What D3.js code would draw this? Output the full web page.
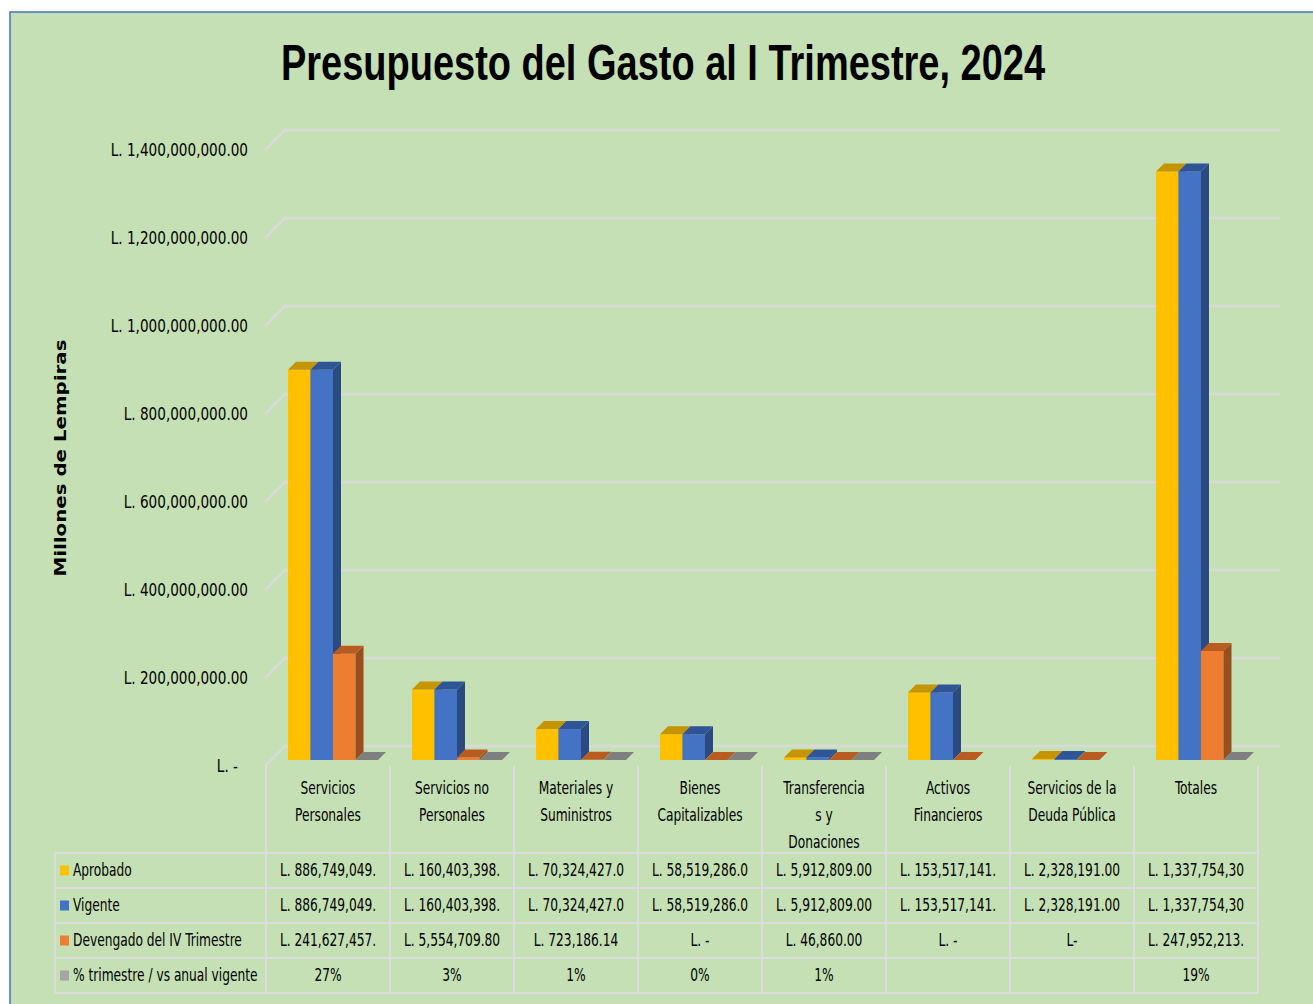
<!DOCTYPE html>
<html>
<head>
<meta charset="utf-8">
<script src="https://cdnjs.cloudflare.com/ajax/libs/d3/7.8.5/d3.min.js"></script>
<style>
  body { margin: 0; background: #fff; }
  svg { display: block; }
</style>
</head>
<body>
<svg id="chart" width="1313" height="1004"></svg>
<script>
// data
var categories = ["Servicios Personales", "Servicios no Personales", "Materiales y Suministros",
  "Bienes Capitalizables", "Transferencia s y Donaciones", "Activos Financieros",
  "Servicios de la Deuda Pública", "Totales"];
var headerLines = [["Servicios", "Personales"], ["Servicios no", "Personales"], ["Materiales y", "Suministros"],
  ["Bienes", "Capitalizables"], ["Transferencia", "s y", "Donaciones"], ["Activos", "Financieros"],
  ["Servicios de la", "Deuda Pública"], ["Totales"]];
var seriesNames = ["Aprobado", "Vigente", "Devengado del IV Trimestre", "% trimestre / vs anual vigente"];
var aprobado = [886749049, 160403398, 70324427, 58519286, 5912809, 153517141, 2328191, 1337754300];
var vigente = [886749049, 160403398, 70324427, 58519286, 5912809, 153517141, 2328191, 1337754300];
var devengado = [241627457, 5554709.80, 723186.14, 0, 46860, 0, 0, 247952213];
var devengadoText = [null, null, null, null, null, null, "L-", null];
var porcentaje = [0.27, 0.03, 0.01, 0, 0.01, null, null, 0.19];
var yTicks = [0, 200000000, 400000000, 600000000, 800000000, 1000000000, 1200000000, 1400000000];

var colors = [
  {front: "#ffc000", top: "#c49500", side: "#b88c00"},
  {front: "#4472c4", top: "#2f5597", side: "#2b4a82"},
  {front: "#ed7d31", top: "#b85c22", side: "#9a4d1d"},
  {front: "#a5a5a5", top: "#7f7f7f", side: "#6f6f6f"}
];

var svg = d3.select("#chart");
var W = 1313, H = 1004;
var plotLeft = 266, plotRight = 1258;
var baseY = 760, depth = 8, wallDx = 20, wallDy = 20;
var narrow = "'Liberation Sans Narrow', 'DejaVu Sans Condensed', 'Arial Narrow', sans-serif";
var squeeze = 0.8;

// background panel
svg.append("rect").attr("x", 10).attr("y", 12).attr("width", W - 10).attr("height", H - 12)
  .attr("fill", "#c5e0b4");
svg.append("path").attr("d", "M10," + H + "V12H" + W).attr("fill", "none")
  .attr("stroke", "#4472c4").attr("stroke-width", 1.5);

// title
svg.append("text").attr("x", 281).attr("y", 80)
  .attr("textLength", 764).attr("lengthAdjust", "spacingAndGlyphs")
  .style("font-family", "'Liberation Sans', Arial, sans-serif").style("font-weight", "bold")
  .style("font-size", "50px").attr("fill", "#000")
  .text("Presupuesto del Gasto al I Trimestre, 2024");

var x = d3.scaleBand().domain(categories).range([plotLeft, plotRight]);
var xs = d3.scaleBand().domain(seriesNames).range([22, 22 + 90]);
var y = d3.scaleLinear().domain([0, 1400000000]).range([baseY, baseY - 616]);

// gridlines on the back wall
var grid = svg.append("g").attr("stroke", "#d9d9d9").attr("stroke-width", 2.5).attr("fill", "none");
yTicks.forEach(function(v) {
  var yy = y(v);
  grid.append("path").attr("d", "M" + (plotLeft - 1) + "," + (yy + 6) + "L" + (plotLeft - 1 + wallDx) + "," + (yy + 6 - wallDy)
    + "H" + (plotRight + 22));
});

// y axis labels
var fmtMoney = d3.format(",.2f");
var yAxis = d3.axisLeft(y).tickValues(yTicks).tickSize(0).tickPadding(0)
  .tickFormat(function(v) { return v === 0 ? "L. -" : "L. " + fmtMoney(v); });
var ga = svg.append("g").attr("transform", "translate(248,6)").call(yAxis);
ga.select(".domain").remove();
ga.selectAll("text").style("font-family", narrow).style("font-size", "18px").attr("fill", "#000")
  .attr("dy", "0.32em")
  .attr("dx", function(v) { return v === 0 ? -12 : 0; })
  .attr("transform", "scale(0.84,1)");

// axis title
svg.append("text").attr("transform", "translate(66,458) rotate(-90)")
  .attr("text-anchor", "middle").attr("textLength", 237).attr("lengthAdjust", "spacingAndGlyphs")
  .style("font-family", "'DejaVu Sans', Verdana, sans-serif").style("font-weight", "bold")
  .style("font-size", "16px").text("Millones de Lempiras");

// 3D bars
var allSeries = [aprobado, vigente, devengado, porcentaje];
var bars = svg.append("g");
categories.forEach(function(cat, ci) {
  allSeries.forEach(function(values, si) {
    var v = values[ci];
    if (v === null) return;
    var x0 = x(cat) + xs(seriesNames[si]);
    var w = xs.bandwidth();
    var yy = y(v);
    var c = colors[si];
    var g = bars.append("g");
    if (baseY - yy > 0.5) {
      g.append("rect").attr("x", x0).attr("y", yy).attr("width", w).attr("height", baseY - yy).attr("fill", c.front);
      g.append("path").attr("d", "M" + (x0 + w) + "," + yy + "L" + (x0 + w + depth) + "," + (yy - depth)
        + "V" + (baseY - depth) + "L" + (x0 + w) + "," + baseY + "Z").attr("fill", c.side);
    }
    g.append("path").attr("d", "M" + x0 + "," + yy + "L" + (x0 + depth) + "," + (yy - depth)
      + "H" + (x0 + w + depth) + "L" + (x0 + w) + "," + yy + "Z").attr("fill", c.top);
  });
});

// data table
var rowTops = [853, 888, 923, 958];
var rowH = 35;
var tableTop = baseY + 6;
var tableBottom = rowTops[3] + rowH;
var lines = svg.append("g").attr("stroke", "#dcdcdc").attr("stroke-width", 2);
x.domain().concat([null]).forEach(function(cat) {
  var xx = cat === null ? plotRight : x(cat);
  lines.append("line").attr("x1", xx).attr("x2", xx).attr("y1", tableTop).attr("y2", tableBottom);
});
lines.append("line").attr("x1", 55).attr("x2", 55).attr("y1", rowTops[0]).attr("y2", tableBottom);
rowTops.concat([tableBottom]).forEach(function(ry) {
  lines.append("line").attr("x1", 55).attr("x2", plotRight).attr("y1", ry).attr("y2", ry);
});

var txt = svg.append("g").style("font-family", narrow).style("font-size", "17px").attr("fill", "#000");
function label(px, py, s, anchor) {
  return txt.append("text").attr("transform", "translate(" + px + "," + py + ") scale(" + squeeze + ",1)")
    .attr("dy", "0.35em").attr("text-anchor", anchor).text(s);
}
categories.forEach(function(cat, ci) {
  headerLines[ci].forEach(function(line, li) {
    label(x(cat) + x.bandwidth() / 2, 788 + li * 27, line, "middle");
  });
});

function money(v) {
  if (v === 0) return "L. -";
  return ("L. " + fmtMoney(v)).slice(0, 15);
}
var fmtPct = d3.format(".0%");
var cellText = [
  aprobado.map(money),
  vigente.map(money),
  devengado.map(function(v, i) { return devengadoText[i] || money(v); }),
  porcentaje.map(function(v) { return v === null ? "" : fmtPct(v); })
];
seriesNames.forEach(function(name, si) {
  var cy = rowTops[si] + rowH / 2;
  txt.append("rect").attr("x", 60).attr("y", cy - 5).attr("width", 9).attr("height", 10)
    .attr("fill", colors[si].front);
  label(73, cy, name, "start");
  categories.forEach(function(cat, ci) {
    label(x(cat) + x.bandwidth() / 2, cy, cellText[si][ci], "middle");
  });
});
</script>
</body>
</html>
